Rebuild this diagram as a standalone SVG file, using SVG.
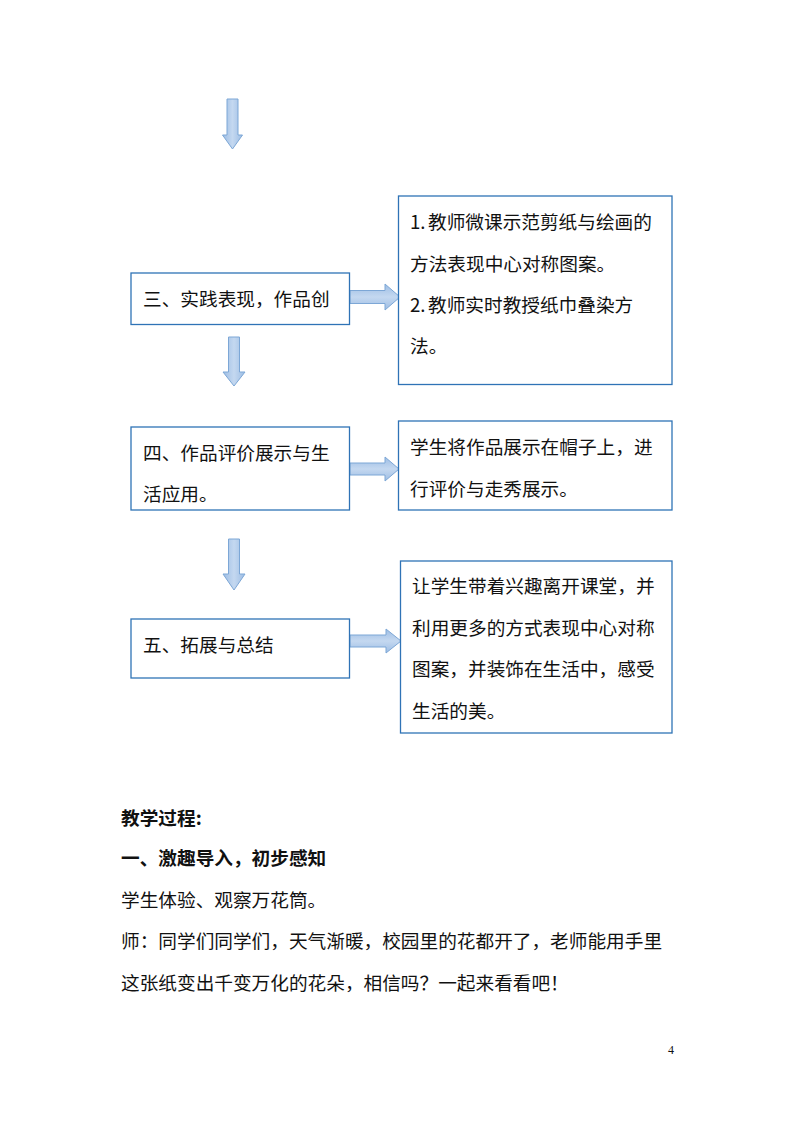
<svg xmlns="http://www.w3.org/2000/svg" width="794" height="1123" viewBox="0 0 794 1123">
<defs>
<style>
.box{fill:#ffffff;stroke:#2f73b6;stroke-width:1.3}
.t{font-family:"Noto Sans CJK SC","Noto Sans",sans-serif;font-size:18.67px;fill:#111}
.b{font-weight:bold}
.arr{stroke:#7da7d6;stroke-width:1}
.av{fill:url(#gv)}
.ah{fill:url(#gh)}
</style>
<linearGradient id="gv" x1="0" y1="0" x2="1" y2="0">
<stop offset="0" stop-color="#9dbde4"/>
<stop offset="0.5" stop-color="#c4d8f0"/>
<stop offset="1" stop-color="#9dbde4"/>
</linearGradient>
<linearGradient id="gh" x1="0" y1="0" x2="0" y2="1">
<stop offset="0" stop-color="#9dbde4"/>
<stop offset="0.5" stop-color="#c4d8f0"/>
<stop offset="1" stop-color="#9dbde4"/>
</linearGradient>
</defs>
<rect width="794" height="1123" fill="#ffffff"/>

<g id="connectors">
<path class="arr av" d="M227,99 H238 V135 H242.5 L232.5,149 L222.5,135 H227 Z"/>
<path class="arr ah" d="M350,290.5 H385 V284 L400,297 L385,310 V303.5 H350 Z"/>
<path class="arr av" d="M228.5,337 H239.5 V372 H245 L234,386 L223,372 H228.5 Z"/>
<path class="arr ah" d="M350,463 H385 V457 L399,469 L385,481 V475 H350 Z"/>
<path class="arr av" d="M228.5,539 H239.5 V574 H245 L234,590 L223,574 H228.5 Z"/>
<path class="arr ah" d="M350,635 H386 V629 L401,641 L386,653 V647 H350 Z"/>
</g>

<g id="node-practice">
<rect class="box" x="131" y="273" width="218.5" height="51.5"/>
<text class="t" x="143" y="306">三、实践表现，作品创</text>
</g>

<g id="node-practice-detail">
<rect class="box" x="398.5" y="196" width="273.5" height="188.5"/>
<text class="t" x="410" y="229">1.<tspan x="428">教师微课示范剪纸与绘画的</tspan></text>
<text class="t" x="410" y="271">方法表现中心对称图案。</text>
<text class="t" x="410" y="312">2.<tspan x="428">教师实时教授纸巾叠染方</tspan></text>
<text class="t" x="410" y="353">法。</text>
</g>

<g id="node-evaluate">
<rect class="box" x="131" y="427" width="218.5" height="83"/>
<text class="t" x="143" y="460">四、作品评价展示与生</text>
<text class="t" x="143" y="501">活应用。</text>
</g>

<g id="node-evaluate-detail">
<rect class="box" x="398.5" y="421" width="273.5" height="89"/>
<text class="t" x="410" y="454">学生将作品展示在帽子上，进</text>
<text class="t" x="410" y="496">行评价与走秀展示。</text>
</g>

<g id="node-summary">
<rect class="box" x="131" y="619" width="218.5" height="59"/>
<text class="t" x="143" y="652">五、拓展与总结</text>
</g>

<g id="node-summary-detail">
<rect class="box" x="400.5" y="561" width="271.5" height="172"/>
<text class="t" x="412" y="593">让学生带着兴趣离开课堂，并</text>
<text class="t" x="412" y="635">利用更多的方式表现中心对称</text>
<text class="t" x="412" y="676">图案，并装饰在生活中，感受</text>
<text class="t" x="412" y="718">生活的美。</text>
</g>

<g id="body-text">
<text class="t b" x="121" y="825">教学过程:</text>
<text class="t b" x="121" y="865">一、激趣导入，初步感知</text>
<text class="t" x="121" y="907">学生体验、观察万花筒。</text>
<text class="t" x="121" y="948">师：同学们同学们，天气渐暖，校园里的花都开了，老师能用手里</text>
<text class="t" x="121" y="990">这张纸变出千变万化的花朵，相信吗？一起来看看吧！</text>
<text x="668" y="1054" style="font-family:'Liberation Serif',serif;font-size:12px;fill:#111">4</text>
</g>
</svg>
